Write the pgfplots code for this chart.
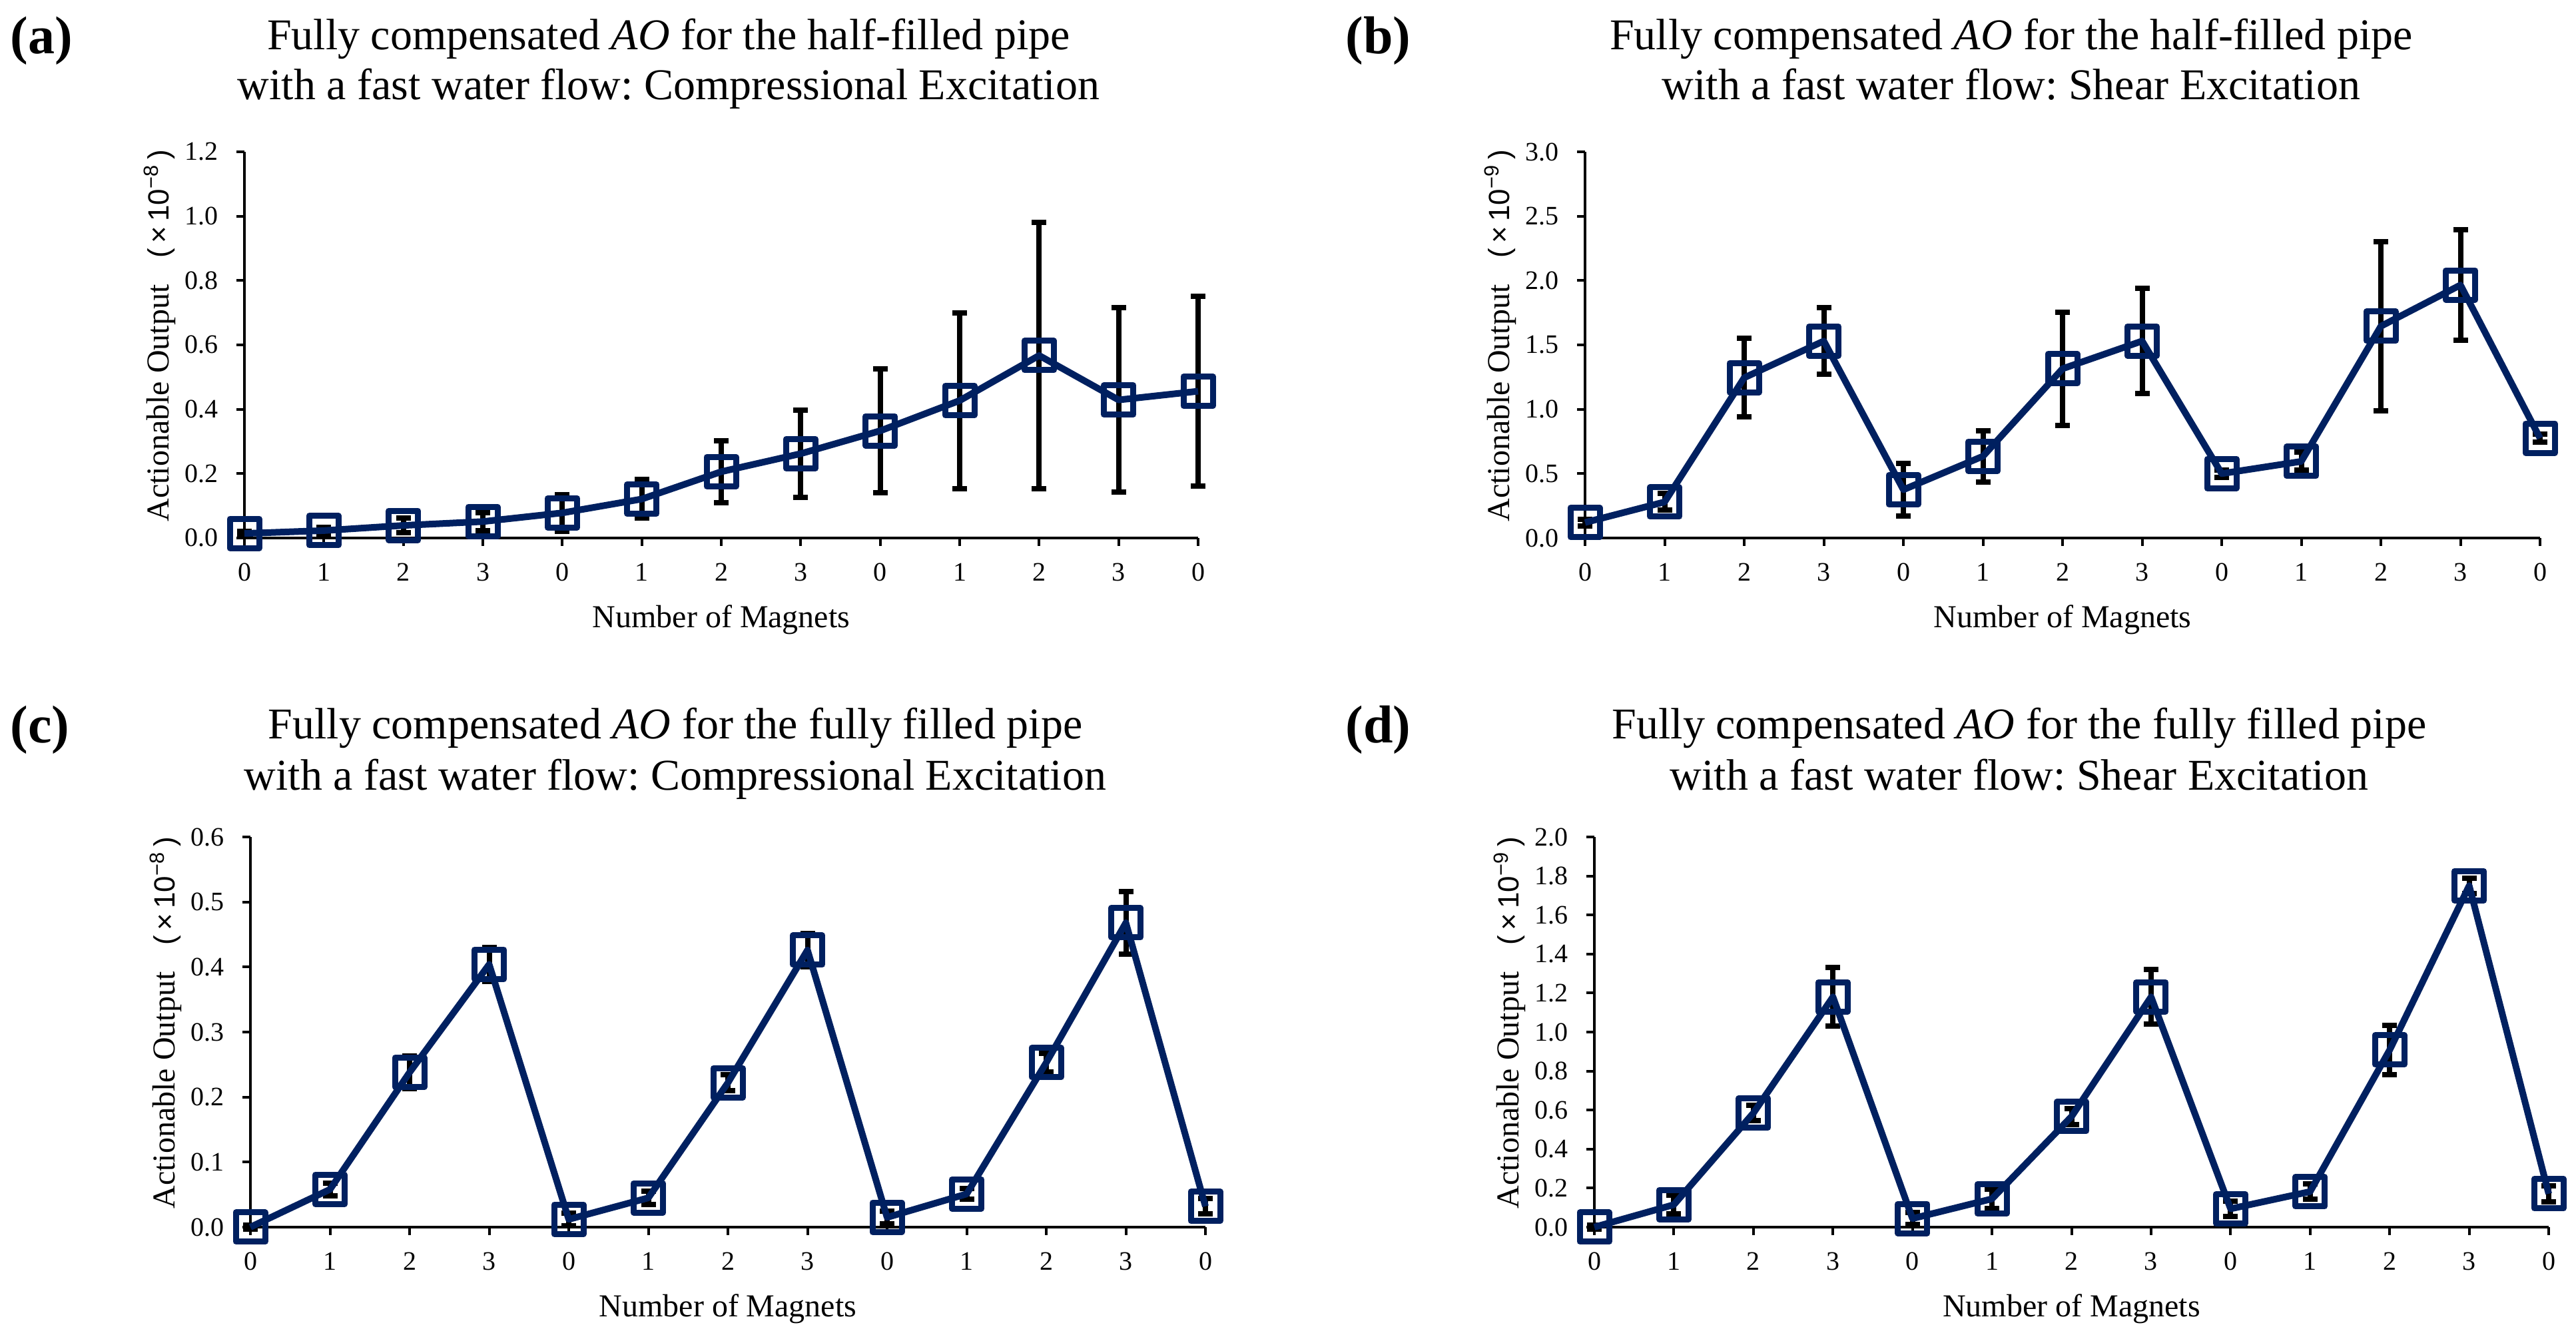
\documentclass[border=0pt]{standalone}
\usepackage{fontspec}
\setmainfont{Liberation Serif}
\setsansfont{Liberation Sans}
\usepackage{pgfplots}
\usepackage{pgfplotstable}
\pgfplotsset{compat=1.18}
\frenchspacing

\definecolor{navy}{RGB}{0,32,96}

% x = category index, y = mean, e = half length of the error bar
\pgfplotstableread{
x y e
0 0.014 0.006
1 0.023 0.011
2 0.039 0.022
3 0.051 0.028
4 0.078 0.057
5 0.121 0.060
6 0.206 0.097
7 0.262 0.135
8 0.333 0.192
9 0.427 0.273
10 0.567 0.413
11 0.429 0.287
12 0.456 0.295
}\dataA
\pgfplotstableread{
x y e
0 0.12 0.025
1 0.28 0.065
2 1.245 0.305
3 1.53 0.26
4 0.375 0.205
5 0.635 0.20
6 1.315 0.44
7 1.53 0.41
8 0.50 0.03
9 0.595 0.07
10 1.645 0.655
11 1.965 0.43
12 0.775 0.03
}\dataB
\pgfplotstableread{
x y e
0 0.000 0.003
1 0.058 0.010
2 0.238 0.025
3 0.404 0.026
4 0.012 0.010
5 0.045 0.010
6 0.222 0.012
7 0.426 0.026
8 0.015 0.010
9 0.051 0.008
10 0.253 0.014
11 0.468 0.048
12 0.032 0.012
}\dataC
\pgfplotstableread{
x y e
0 0.000 0.010
1 0.115 0.048
2 0.585 0.040
3 1.180 0.150
4 0.044 0.030
5 0.145 0.050
6 0.567 0.040
7 1.180 0.140
8 0.094 0.040
9 0.182 0.040
10 0.908 0.125
11 1.750 0.040
12 0.171 0.040
}\dataD

\pgfplotsset{
  panel/.style={
    scale only axis, anchor=south west, clip=false,
    xmin=0, xmax=12, ymin=0,
    axis lines=left, axis line style={-, line width=1pt, black},
    tick align=outside, major tick length=3pt,
    tick style={line width=1pt, black},
    xtick={0,...,12},
    xticklabels={0,1,2,3,0,1,2,3,0,1,2,3,0},
    tick label style={font=\fontsize{10}{12}\selectfont},
    /pgf/number format/assume math mode=true,
    yticklabel style={anchor=east, inner sep=0pt, xshift=-6.75pt,
      /pgf/number format/fixed, /pgf/number format/fixed zerofill,
      /pgf/number format/precision=1},
    xticklabel style={anchor=north, inner sep=0pt, yshift=-6.25pt},
  },
  bars/.style={draw=none, mark=none, forget plot,
    error bars/.cd, y dir=both, y explicit,
    error bar style={draw=black, line width=2pt},
    error mark options={rotate=90, mark size=2.75pt, draw=black, line width=2pt}},
  series/.style={navy, line width=2.5pt, line join=round, mark=square,
    mark size=5.5pt, mark options={line width=2.25pt, solid, line join=round}},
}

\newcommand\ttl{\fontsize{16.5}{19}\selectfont}
\newcommand\plab{\fontsize{20}{22}\selectfont\bfseries}
\newcommand\xlab{\fontsize{12}{14}\selectfont Number of Magnets}
\newcommand\ylab[1]{\fontsize{12}{14}\selectfont Actionable Output\hspace{10pt}{\sffamily\fontsize{11}{13}\selectfont(\,×\,10\textsuperscript{−#1}\,)}}

\begin{document}
\begin{tikzpicture}
\path[use as bounding box] (0,0) rectangle (967pt,500.5pt);

\begin{axis}[panel, at={(91.75pt,298.5pt)}, width=358pt, height=145pt,
  ymax=1.2, ytick={0,0.2,...,1.2}]
\addplot[bars] table[x=x, y=y, y error=e] {\dataA};
\addplot[series] table[x=x, y=y] {\dataA};
\end{axis}

\begin{axis}[panel, at={(595pt,298.5pt)}, width=358.5pt, height=145pt,
  ymax=3, ytick={0,0.5,...,3}]
\addplot[bars] table[x=x, y=y, y error=e] {\dataB};
\addplot[series] table[x=x, y=y] {\dataB};
\end{axis}

\begin{axis}[panel, at={(94pt,39.75pt)}, width=358.5pt, height=146.5pt,
  ymax=0.6, ytick={0,0.1,...,0.6}]
\addplot[bars] table[x=x, y=y, y error=e] {\dataC};
\addplot[series] table[x=x, y=y] {\dataC};
\end{axis}

\begin{axis}[panel, at={(598.5pt,39.75pt)}, width=358.25pt, height=146.5pt,
  ymax=2, ytick={0,0.2,...,2}]
\addplot[bars] table[x=x, y=y, y error=e] {\dataD};
\addplot[series] table[x=x, y=y] {\dataD};
\end{axis}

% panel letters
\node[anchor=base west, inner sep=0pt] at (3.75pt,480.25pt) {\plab (a)};
\node[anchor=base west, inner sep=0pt] at (505pt,480.25pt) {\plab (b)};
\node[anchor=base west, inner sep=0pt] at (3.75pt,221.5pt) {\plab (c)};
\node[anchor=base west, inner sep=0pt] at (505pt,221.5pt) {\plab (d)};

% titles
\node[anchor=base, inner sep=0pt] at (251pt,481.75pt) {\ttl Fully compensated \textit{AO} for the half-filled pipe};
\node[anchor=base, inner sep=0pt] at (251pt,463pt) {\ttl with a fast water flow: Compressional Excitation};
\node[anchor=base, inner sep=0pt] at (755pt,481.75pt) {\ttl Fully compensated \textit{AO} for the half-filled pipe};
\node[anchor=base, inner sep=0pt] at (755pt,463pt) {\ttl with a fast water flow: Shear Excitation};
\node[anchor=base, inner sep=0pt] at (253.5pt,223pt) {\ttl Fully compensated \textit{AO} for the fully filled pipe};
\node[anchor=base, inner sep=0pt] at (253.5pt,203.75pt) {\ttl with a fast water flow: Compressional Excitation};
\node[anchor=base, inner sep=0pt] at (758pt,223pt) {\ttl Fully compensated \textit{AO} for the fully filled pipe};
\node[anchor=base, inner sep=0pt] at (758pt,203.75pt) {\ttl with a fast water flow: Shear Excitation};

% x labels
\node[anchor=base, inner sep=0pt] at (270.75pt,264.75pt) {\xlab};
\node[anchor=base, inner sep=0pt] at (774.25pt,264.75pt) {\xlab};
\node[anchor=base, inner sep=0pt] at (273.25pt,6pt) {\xlab};
\node[anchor=base, inner sep=0pt] at (777.6pt,6pt) {\xlab};

% y labels
\node[rotate=90, anchor=base, inner sep=0pt] at (63.25pt,374.5pt) {\ylab{8}};
\node[rotate=90, anchor=base, inner sep=0pt] at (566.5pt,374.5pt) {\ylab{9}};
\node[rotate=90, anchor=base, inner sep=0pt] at (65.5pt,116.5pt) {\ylab{8}};
\node[rotate=90, anchor=base, inner sep=0pt] at (570pt,116.5pt) {\ylab{9}};
\end{tikzpicture}
\end{document}
